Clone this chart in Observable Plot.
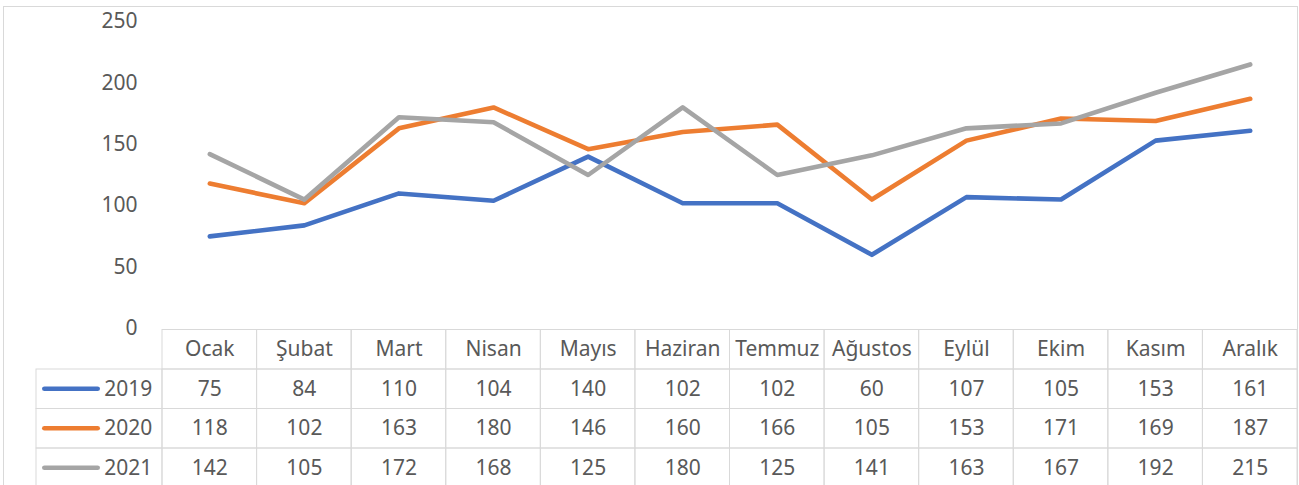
<!DOCTYPE html>
<html><head><meta charset="utf-8">
<script src="https://cdn.jsdelivr.net/npm/d3@7"></script>
<script src="https://cdn.jsdelivr.net/npm/@observablehq/plot@0.6"></script>
<style>
body{margin:0;background:#fff;}
#wrap{position:relative;width:1299px;height:485px;overflow:hidden;background:#fff;}
#border{position:absolute;left:3px;top:6px;width:1295px;height:520px;border:1px solid #d9d9d9;box-sizing:border-box;pointer-events:none;}
#wrap svg{display:block;overflow:visible;}
</style></head><body><div id="wrap"><div id="border"></div></div>
<script>
const months = ["Ocak","Şubat","Mart","Nisan","Mayıs","Haziran","Temmuz","Ağustos","Eylül","Ekim","Kasım","Aralık"];
const years = ["2019","2020","2021"];
const v2019 = [75,84,110,104,140,102,102,60,107,105,153,161];
const v2020 = [118,102,163,180,146,160,166,105,153,171,169,187];
const v2021 = [142,105,172,168,125,180,125,141,163,167,192,215];
const yTicks = [0,50,100,150,200,250];
const colors = ["#4472C4","#ED7D31","#A5A5A5"];

const vals = [v2019, v2020, v2021];
const series = years.flatMap((yr,i)=> months.map((m,j)=>({year:yr, month:m, value:vals[i][j]})));
const cells = months.map(m => ({row:"", month:m, text:m}))
  .concat(years.flatMap((yr,i)=> months.map((m,j)=>({row:yr, month:m, text:String(vals[i][j])}))));
const rows = ["", ...years];

const baseStyle = {background:"transparent", overflow:"visible", fontFamily:"'Noto Sans', sans-serif", fontSize:"21px", color:"#595959"};

const chart = Plot.plot({
  width:1299, height:329, marginTop:21, marginBottom:1, marginLeft:162, marginRight:2,
  style: baseStyle,
  x:{type:"point", domain:months, padding:0.5, round:false, axis:null},
  y:{domain:[0,250], ticks:yTicks, tickSize:0, tickPadding:25, label:null, tickFormat:d=>String(d)},
  color:{domain:years, range:colors},
  marks:[
    Plot.lineY(series,{x:"month", y:"value", z:"year", stroke:"year", strokeWidth:4.6, strokeLinejoin:"round", strokeLinecap:"round"})
  ]
});

const table = Plot.plot({
  width:1299, height:156, marginTop:0, marginBottom:0, marginLeft:162, marginRight:2,
  style: baseStyle,
  x:{type:"band", domain:months, padding:0, round:false, axis:null},
  y:{type:"band", domain:rows, range:[0.5,158.5], padding:0, round:false, axis:null},
  color:{domain:years, range:colors},
  marks:[
    Plot.cell(cells, {x:"month", y:"row", fill:"none", stroke:"#d9d9d9", inset:0}),
    Plot.cell(years, {x:()=>months[0], y:d=>d, fill:"none", stroke:"#d9d9d9", insetLeft:-126, insetRight:94.58, insetTop:0, insetBottom:0}),
    Plot.cell(years, {x:()=>months[0], y:d=>d, fill:d=>d, insetLeft:-120, insetRight:94.58+62, insetTop:17.5, insetBottom:17.5, rx:2.5}),
    Plot.text(years, {x:()=>months[0], y:d=>d, text:d=>d, textAnchor:"start", dx:-105.5, fill:"#595959"}),
    Plot.text(cells, {x:"month", y:"row", text:"text", fill:"#595959"})
  ]
});

const wrap = document.getElementById("wrap");
wrap.appendChild(chart);
wrap.appendChild(table);
</script></body></html>
